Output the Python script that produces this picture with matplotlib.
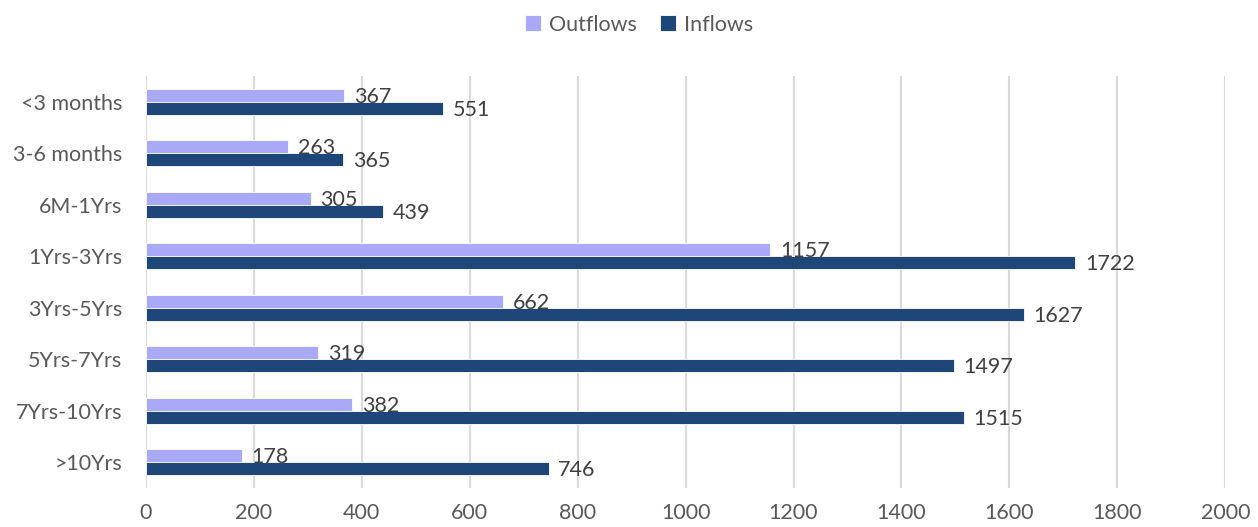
import matplotlib
matplotlib.use("Agg")
import matplotlib.pyplot as plt
import numpy as np

categories = ["<3 months", "3-6 months", "6M-1Yrs", "1Yrs-3Yrs",
              "3Yrs-5Yrs", "5Yrs-7Yrs", "7Yrs-10Yrs", ">10Yrs"]
outflows = [367, 263, 305, 1157, 662, 319, 382, 178]
inflows = [551, 365, 439, 1722, 1627, 1497, 1515, 746]
x_ticks = [0, 200, 400, 600, 800, 1000, 1200, 1400, 1600, 1800, 2000]

out_color = "#A9A9F7"
in_color = "#1F4678"
tick_color = "#595959"
label_color = "#404040"

plt.rcParams["font.family"] = ["Lato", "DejaVu Sans"]

fig = plt.figure(figsize=(12.58, 5.27), dpi=100)
ax = fig.add_axes([0.116, 0.074, 0.858, 0.782])

y = np.arange(len(categories))
h = 0.255
b_out = ax.barh(y - h / 2, outflows, height=h, color=out_color,
                edgecolor="white", linewidth=0.6, label="Outflows", zorder=3)
b_in = ax.barh(y + h / 2, inflows, height=h, color=in_color,
               edgecolor="white", linewidth=0.6, label="Inflows", zorder=3)

for bars, vals in ((b_out, outflows), (b_in, inflows)):
    for rect, v in zip(bars, vals):
        ax.annotate(str(v), (v, rect.get_y() + rect.get_height() / 2 + 0.03),
                    xytext=(7, 0), textcoords="offset points",
                    ha="left", va="center", fontsize=15.5, color=label_color,
                    zorder=4)

ax.set_xlim(0, 2000)
ax.set_ylim(len(categories) - 0.5, -0.5)
ax.set_xticks(x_ticks)
ax.set_xticklabels([str(t) for t in x_ticks])
ax.set_yticks(y)
ax.set_yticklabels(categories)
ax.tick_params(axis="both", length=0, labelsize=15.5, colors=tick_color)
ax.tick_params(axis="x", pad=11)
ax.tick_params(axis="y", pad=17)
ax.xaxis.grid(True, color="#D9D9D9", linewidth=1.5, zorder=0)
ax.set_axisbelow(True)
for s in ax.spines.values():
    s.set_visible(False)

handles = [b_out, b_in]
fig.legend(handles, ["Outflows", "Inflows"], loc="center",
           bbox_to_anchor=(0.508, 0.953), ncol=2, frameon=False,
           fontsize=15.5, labelcolor=tick_color, handlelength=0.75,
           handleheight=0.75, handletextpad=0.35, columnspacing=1.1)

fig.savefig("out.png", dpi=100)
